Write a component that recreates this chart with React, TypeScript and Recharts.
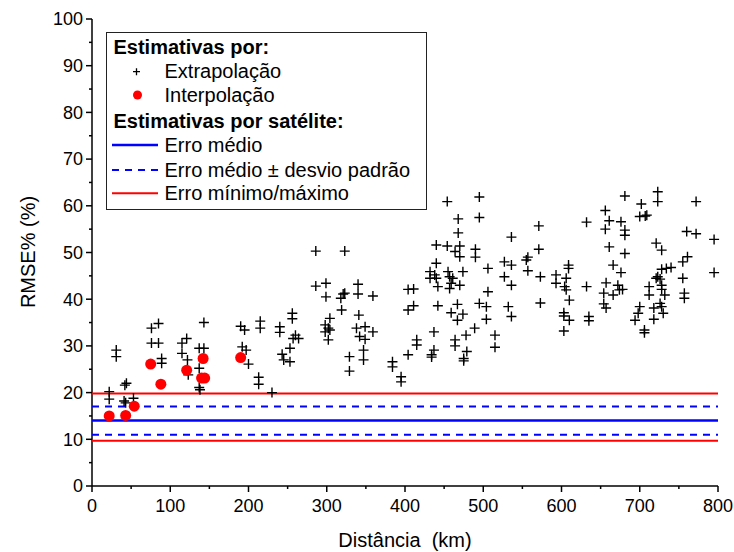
import { Scatter, ScatterChart, XAxis, YAxis } from 'recharts'

// Distância (km), RMSE% (%)
const extrapolacao: [number, number][] = [
  [22, 20.2], [22, 18.6], [31, 29.1], [31, 27.7], [44, 22.0], [42, 21.6], [41, 18.2], [43, 17.8],
  [53, 18.8], [76, 33.8], [76, 30.6], [85, 34.8], [85, 30.6], [89, 27.3], [89, 26.3],
  [115, 30.6], [115, 28.4], [121, 31.6], [122, 27.0], [123, 23.8],
  [137, 29.5], [137, 25.2], [137, 21.1], [138, 20.6], [143, 35.0], [143, 29.5],
  [190, 34.2], [195, 33.4], [192, 29.8], [197, 29.1], [200, 26.1],
  [215, 35.3], [215, 33.8], [213, 23.3], [213, 21.8], [230, 20.0],
  [240, 34.1], [240, 32.9], [243, 28.2], [245, 27.0], [253, 26.6], [253, 29.5],
  [256, 37.0], [256, 35.8], [257, 31.6], [264, 31.6], [260, 32.3],
  [286, 50.3], [323, 50.3], [286, 42.8], [299, 43.4], [299, 40.5],
  [340, 43.2], [340, 41.1], [359, 40.7], [321, 41.1], [323, 41.3], [318, 40.2], [319, 37.7],
  [341, 36.6], [304, 35.9], [298, 34.5], [302, 33.8], [298, 33.0], [304, 33.4], [302, 31.3],
  [338, 33.8], [349, 34.1], [342, 32.0], [349, 31.4], [359, 33.0], [347, 29.1], [347, 27.0],
  [329, 27.7], [329, 24.6], [384, 26.6], [384, 25.5], [395, 23.4], [395, 22.3],
  [404, 42.1], [411, 42.2], [404, 37.7], [411, 38.6], [404, 28.1], [415, 31.3], [415, 30.2],
  [454, 60.9], [495, 61.9], [495, 57.5], [468, 57.2], [468, 54.2],
  [440, 51.6], [454, 51.4], [470, 51.4], [440, 47.7], [464, 50.2], [470, 49.1],
  [490, 50.7], [490, 49.0], [432, 45.9], [438, 45.2], [432, 44.5], [440, 44.5], [442, 42.7],
  [455, 45.9], [457, 44.8], [461, 44.5], [459, 43.4], [457, 42.3], [470, 43.0], [474, 45.9],
  [506, 46.6], [506, 41.6], [442, 38.6], [467, 38.9], [459, 37.1], [474, 36.8], [467, 35.5],
  [495, 39.1], [504, 38.4], [504, 35.7], [489, 33.8],
  [437, 33.0], [437, 29.1], [434, 28.1], [434, 27.6], [464, 31.3], [464, 30.0],
  [478, 32.3], [479, 28.8], [475, 27.3], [475, 26.8], [515, 32.3], [515, 29.7],
  [536, 53.3], [527, 48.0], [536, 47.3], [527, 44.8], [536, 43.0], [532, 38.4], [536, 36.3],
  [571, 55.7], [571, 50.7], [557, 49.0], [555, 48.4], [557, 46.1], [573, 44.8], [573, 39.2],
  [593, 45.2], [593, 43.4], [609, 47.3], [609, 46.6], [606, 44.5], [604, 42.7], [606, 42.0], [610, 39.8],
  [603, 37.1], [603, 36.4], [610, 35.5], [603, 33.2], [632, 56.5], [632, 42.7], [635, 36.3], [635, 35.4],
  [656, 59.0], [661, 56.8], [656, 55.0], [661, 51.2], [666, 47.3],
  [657, 43.5], [654, 41.3], [666, 40.9], [654, 39.0], [657, 38.1],
  [681, 62.1], [723, 63.0], [723, 60.9], [772, 60.9], [702, 60.4], [700, 57.7], [707, 57.8], [709, 58.0],
  [676, 56.6], [681, 54.8], [681, 53.7], [760, 54.5], [772, 54.0], [795, 52.8], [721, 52.0], [728, 50.5],
  [681, 49.8], [761, 49.1], [755, 48.0], [676, 45.7],
  [728, 46.4], [734, 46.6], [740, 46.8], [723, 44.8], [721, 44.5], [726, 44.3], [755, 44.5], [795, 45.7],
  [672, 43.0], [674, 42.0], [678, 42.1], [712, 42.7], [712, 40.9], [728, 43.0], [732, 40.9], [728, 42.1],
  [757, 41.3], [757, 40.2], [726, 39.1], [728, 38.4], [718, 38.1], [730, 37.0], [718, 35.7],
  [700, 38.4], [698, 37.0], [694, 35.5], [706, 33.4], [706, 32.8],
]

const interpolacao: [number, number][] = [
  [22, 15.0], [43, 15.1], [54, 17.1], [75, 26.1], [88, 21.8],
  [121, 24.8], [142, 27.3], [140, 23.1], [144, 23.1], [190, 27.5],
]

// satélite
const erroMedio = 14.0
const desvioPadrao = 3.05
const erroMinimo = 9.7
const erroMaximo = 19.8

const xDomain = [0, 800]
const xTicks = [0, 50, 100, 150, 200, 250, 300, 350, 400, 450, 500, 550, 600, 650, 700, 750, 800]
const yTicks = [0, 5, 10, 15, 20, 25, 30, 35, 40, 45, 50, 55, 60, 65, 70, 75, 80, 85, 90, 95, 100]

const FONT = '"Liberation Sans", Arial, sans-serif'
const RED = '#ff0000'
const BLUE = '#0000ff'

const toPoints = (rows: [number, number][]) => rows.map(([x, y]) => ({ x, y }))
const hLine = (y: number) => xDomain.map((x) => ({ x, y }))

const Cross = (p: any) => (
  <path
    d={`M${p.cx - 5},${p.cy}H${p.cx + 5}M${p.cx},${p.cy - 5}V${p.cy + 5}`}
    stroke="#000"
    strokeWidth={1.4}
    fill="none"
  />
)
const Dot = (p: any) => <circle cx={p.cx} cy={p.cy} r={5.5} fill={RED} />
const NoShape = () => <g />

const BottomTick = ({ x, y, payload }: any) => {
  const major = payload.value % 100 === 0
  return (
    <g>
      <line x1={x} x2={x} y1={y} y2={y + (major ? 6 : 3)} stroke="#000" strokeWidth={1.5} />
      {major && (
        <text x={x} y={y + 20} dy="0.35em" textAnchor="middle" fontSize={18} fontFamily={FONT} fill="#000">
          {payload.value}
        </text>
      )}
    </g>
  )
}
const TopTick = ({ x, y, payload }: any) => {
  const major = payload.value % 100 === 0
  return <line x1={x} x2={x} y1={y} y2={y + (major ? 6 : 3)} stroke="#000" strokeWidth={1.5} />
}
const LeftTick = ({ x, y, payload }: any) => {
  const major = payload.value % 10 === 0
  return (
    <g>
      <line x1={x - (major ? 6 : 3)} x2={x} y1={y} y2={y} stroke="#000" strokeWidth={1.5} />
      {major && (
        <text x={x - 9} y={y} dy="0.35em" textAnchor="end" fontSize={18} fontFamily={FONT} fill="#000">
          {payload.value}
        </text>
      )}
    </g>
  )
}
const RightTick = ({ x, y, payload }: any) => {
  const major = payload.value % 10 === 0
  return <line x1={x - (major ? 6 : 3)} x2={x} y1={y} y2={y} stroke="#000" strokeWidth={1.5} />
}

function LegendBox() {
  const row = (top: number, left: number, text: string, bold = false) => (
    <div
      style={{
        position: 'absolute',
        top: top - 12,
        left,
        height: 24,
        lineHeight: '24px',
        whiteSpace: 'nowrap',
        fontWeight: bold ? 'bold' : 'normal',
      }}
    >
      {text}
    </div>
  )
  return (
    <div
      style={{
        position: 'absolute',
        left: 106,
        top: 31.5,
        width: 321,
        height: 178,
        boxSizing: 'border-box',
        border: '1.5px solid #222',
        background: '#fff',
        fontFamily: FONT,
        fontSize: 20,
        color: '#000',
      }}
    >
      <svg width={60} height={175} style={{ position: 'absolute', left: 0, top: 0 }}>
        <path d="M26,38.7H33M29.5,35.2V42.2" stroke="#000" strokeWidth={1.3} />
        <circle cx={30.5} cy={62} r={4.5} fill={RED} />
        <line x1={5} x2={51} y1={112} y2={112} stroke={BLUE} strokeWidth={2.5} />
        <line x1={5} x2={51} y1={137} y2={137} stroke={BLUE} strokeWidth={2} strokeDasharray="7 6" />
        <line x1={5} x2={51} y1={160.3} y2={160.3} stroke={RED} strokeWidth={2} />
      </svg>
      {row(14.3, 6.5, 'Estimativas por:', true)}
      {row(38.7, 57.5, 'Extrapolação')}
      {row(62, 57.5, 'Interpolação')}
      {row(88, 6.5, 'Estimativas por satélite:', true)}
      {row(112, 57.5, 'Erro médio')}
      {row(137, 57.5, 'Erro médio ± desvio padrão')}
      {row(160.3, 57.5, 'Erro mínimo/máximo')}
    </div>
  )
}

export default function App() {
  return (
    <div style={{ position: 'absolute', left: 0, top: 0, width: 734, height: 552, background: '#fff' }}>
      <ScatterChart width={734} height={552} margin={{ top: 19, right: 16, bottom: 36, left: 32 }}>
        <XAxis
          dataKey="x"
          type="number"
          domain={xDomain}
          ticks={xTicks}
          height={30}
          tickSize={0}
          tickMargin={0}
          tick={BottomTick}
          axisLine={{ stroke: '#000', strokeWidth: 1.5 }}
          interval={0}
        />
        <XAxis
          xAxisId="top"
          orientation="top"
          type="number"
          domain={xDomain}
          ticks={xTicks}
          height={0}
          tickSize={0}
          tickMargin={0}
          tick={TopTick}
          axisLine={{ stroke: '#000', strokeWidth: 1.5 }}
          interval={0}
        />
        <YAxis
          dataKey="y"
          type="number"
          domain={[0, 100]}
          ticks={yTicks}
          width={60}
          tickSize={0}
          tickMargin={0}
          tick={LeftTick}
          axisLine={{ stroke: '#000', strokeWidth: 1.5 }}
          interval={0}
        />
        <YAxis
          yAxisId="right"
          orientation="right"
          type="number"
          domain={[0, 100]}
          ticks={yTicks}
          width={0}
          tickSize={0}
          tickMargin={0}
          tick={RightTick}
          axisLine={{ stroke: '#000', strokeWidth: 1.5 }}
          interval={0}
        />
        <Scatter data={hLine(erroMaximo)} line={{ stroke: RED, strokeWidth: 2 }} shape={NoShape} isAnimationActive={false} />
        <Scatter data={hLine(erroMinimo)} line={{ stroke: RED, strokeWidth: 2 }} shape={NoShape} isAnimationActive={false} />
        <Scatter
          data={hLine(erroMedio + desvioPadrao)}
          line={{ stroke: BLUE, strokeWidth: 2, strokeDasharray: '7 6' }}
          shape={NoShape}
          isAnimationActive={false}
        />
        <Scatter
          data={hLine(erroMedio - desvioPadrao)}
          line={{ stroke: BLUE, strokeWidth: 2, strokeDasharray: '7 6' }}
          shape={NoShape}
          isAnimationActive={false}
        />
        <Scatter data={hLine(erroMedio)} line={{ stroke: BLUE, strokeWidth: 2.5 }} shape={NoShape} isAnimationActive={false} />
        <Scatter data={toPoints(extrapolacao)} shape={Cross} isAnimationActive={false} />
        <Scatter data={toPoints(interpolacao)} shape={Dot} isAnimationActive={false} />
      </ScatterChart>
      <LegendBox />
      <div
        style={{
          position: 'absolute',
          left: 405,
          top: 540,
          transform: 'translate(-50%, -50%)',
          fontFamily: FONT,
          fontSize: 20,
          whiteSpace: 'pre',
        }}
      >
        {'Distância  (km)'}
      </div>
      <div
        style={{
          position: 'absolute',
          left: 28,
          top: 252,
          transform: 'translate(-50%, -50%) rotate(-90deg)',
          fontFamily: FONT,
          fontSize: 20,
          whiteSpace: 'pre',
        }}
      >
        {'RMSE% (%)'}
      </div>
    </div>
  )
}
